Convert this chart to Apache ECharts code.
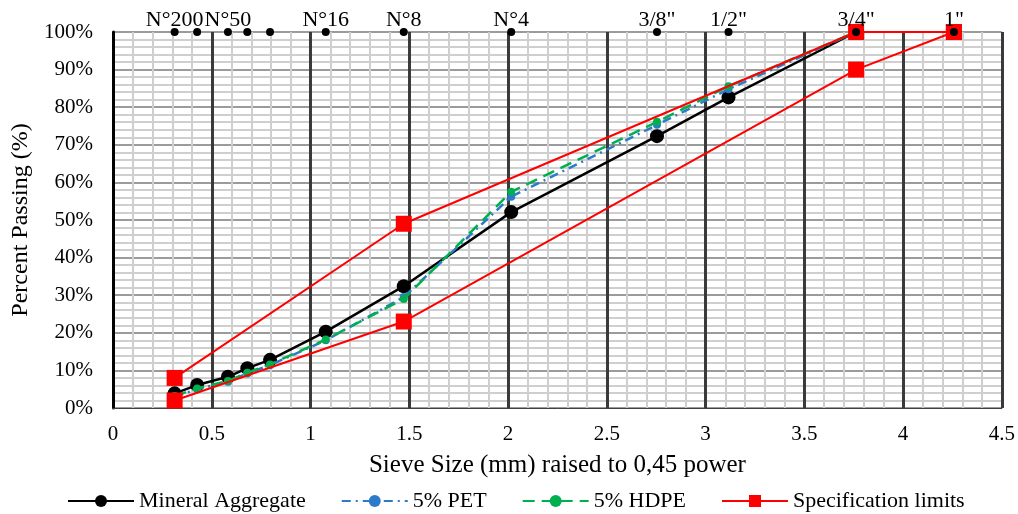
<!DOCTYPE html>
<html>
<head>
<meta charset="utf-8">
<script src="https://cdn.jsdelivr.net/npm/echarts@6/dist/echarts.min.js"></script>
<style>
html,body{margin:0;padding:0;background:#fff;}
#chart{width:1018px;height:514px;}
</style>
</head>
<body>
<div id="chart"></div>
<script>
// Sieve sizes (mm) raised to 0.45 power
const sieveX = [0.312, 0.426, 0.582, 0.680, 0.795, 1.077, 1.472, 2.016, 2.754, 3.116, 3.762, 4.257];
const sieveLabels = ['N°200', '', 'N°50', '', '', 'N°16', 'N°8', 'N°4', '3/8"', '1/2"', '3/4"', '1"'];
const sieveTopY = [100, 100, 100, 100, 100, 100, 100, 100, 100, 100, 100, 100];

const mineralAggregate = [3.9, 6.1, 8.3, 10.6, 12.8, 20.3, 32.4, 52.1, 72.3, 82.6, 100];
const pet5 = [3.0, 5.0, 7.0, 9.2, 11.4, 18.0, 29.5, 56.2, 75.3, 84.8, 100];
const hdpe5 = [3.2, 5.2, 7.2, 9.4, 11.6, 18.2, 29.0, 57.5, 76.1, 85.6, 100];

const specX = [0.312, 1.472, 3.762, 4.257];
const specUpper = [8, 49, 100, 100];
const specLower = [2, 23, 90, 100];

const xTicks = [0, 0.5, 1, 1.5, 2, 2.5, 3, 3.5, 4, 4.5];
const yTicks = [0, 10, 20, 30, 40, 50, 60, 70, 80, 90, 100];

const pair = (xs, ys) => ys.map((v, i) => [xs[i], v]);
const FONT = 'Liberation Serif';

const chart = echarts.init(document.getElementById('chart'));
chart.setOption({
  animation: false,
  backgroundColor: '#fff',
  textStyle: { fontFamily: FONT, color: '#000' },
  grid: { left: 113, right: 14, top: 32, bottom: 106, containLabel: false },
  legend: {
    data: ['Mineral Aggregate', '5% PET', '5% HDPE', 'Specification limits'],
    left: 62, top: 485,
    itemWidth: 66, itemHeight: 15, itemGap: 35,
    textStyle: { fontFamily: FONT, fontSize: 22, color: '#000' }
  },
  xAxis: {
    type: 'value', min: xTicks[0], max: xTicks[xTicks.length - 1], interval: 0.5,
    name: 'Sieve Size (mm) raised to 0,45 power', nameLocation: 'middle', nameGap: 45,
    nameTextStyle: { fontFamily: FONT, fontSize: 25, color: '#000' },
    axisLine: { show: true, onZero: false, lineStyle: { color: '#404040', width: 1 } },
    axisTick: { show: false },
    axisLabel: { fontFamily: FONT, fontSize: 21, color: '#000', margin: 16 },
    splitLine: { show: true, lineStyle: { color: '#3a3a3a', width: 3 } },
    minorTick: { show: false, splitNumber: 5 },
    minorSplitLine: { show: true, lineStyle: { color: '#cfcfcf', width: 2 } }
  },
  yAxis: {
    type: 'value', min: yTicks[0], max: yTicks[yTicks.length - 1], interval: 10,
    name: 'Percent Passing (%)', nameLocation: 'middle', nameGap: 79, nameRotate: 90,
    nameTextStyle: { fontFamily: FONT, fontSize: 24, color: '#000' },
    axisLine: { show: true, lineStyle: { color: '#000', width: 3 } },
    axisTick: { show: false },
    axisLabel: { fontFamily: FONT, fontSize: 21, color: '#000', margin: 20, formatter: '{value}%' },
    splitLine: { show: true, lineStyle: { color: '#7a7a7a', width: 1.5 } },
    minorTick: { show: false, splitNumber: 5 },
    minorSplitLine: { show: true, lineStyle: { color: '#cfcfcf', width: 2 } }
  },
  series: [
    {
      name: 'Mineral Aggregate', type: 'line', data: pair(sieveX, mineralAggregate),
      symbol: 'circle', symbolSize: 14,
      itemStyle: { color: '#000' }, lineStyle: { color: '#000', width: 2.5 }, z: 3
    },
    {
      name: '5% PET', type: 'line', data: pair(sieveX, pet5),
      symbol: 'circle', symbolSize: 8,
      itemStyle: { color: '#2b7bca' }, lineStyle: { color: '#2b7bca', width: 2.5, type: [9, 5, 2, 5] }, z: 4
    },
    {
      name: '5% HDPE', type: 'line', data: pair(sieveX, hdpe5),
      symbol: 'circle', symbolSize: 8,
      itemStyle: { color: '#00b050' }, lineStyle: { color: '#00b050', width: 2.5, type: [12, 7] }, z: 5
    },
    {
      name: 'Specification limits', type: 'line', data: pair(specX, specUpper),
      symbol: 'rect', symbolSize: 16,
      itemStyle: { color: '#ff0000' }, lineStyle: { color: '#ff0000', width: 2 }, z: 6
    },
    {
      name: 'Specification limits', type: 'line', data: pair(specX, specLower),
      symbol: 'rect', symbolSize: 16,
      itemStyle: { color: '#ff0000' }, lineStyle: { color: '#ff0000', width: 2 }, z: 6
    },
    {
      name: 'Sieves', type: 'scatter', data: pair(sieveX, sieveTopY),
      symbol: 'circle', symbolSize: 8, itemStyle: { color: '#000', opacity: 1 }, z: 8,
      label: {
        show: true, position: 'top', distance: -3, opacity: 1,
        fontFamily: FONT, fontSize: 22, color: '#000',
        formatter: p => sieveLabels[p.dataIndex]
      }
    }
  ]
});
</script>
</body>
</html>
